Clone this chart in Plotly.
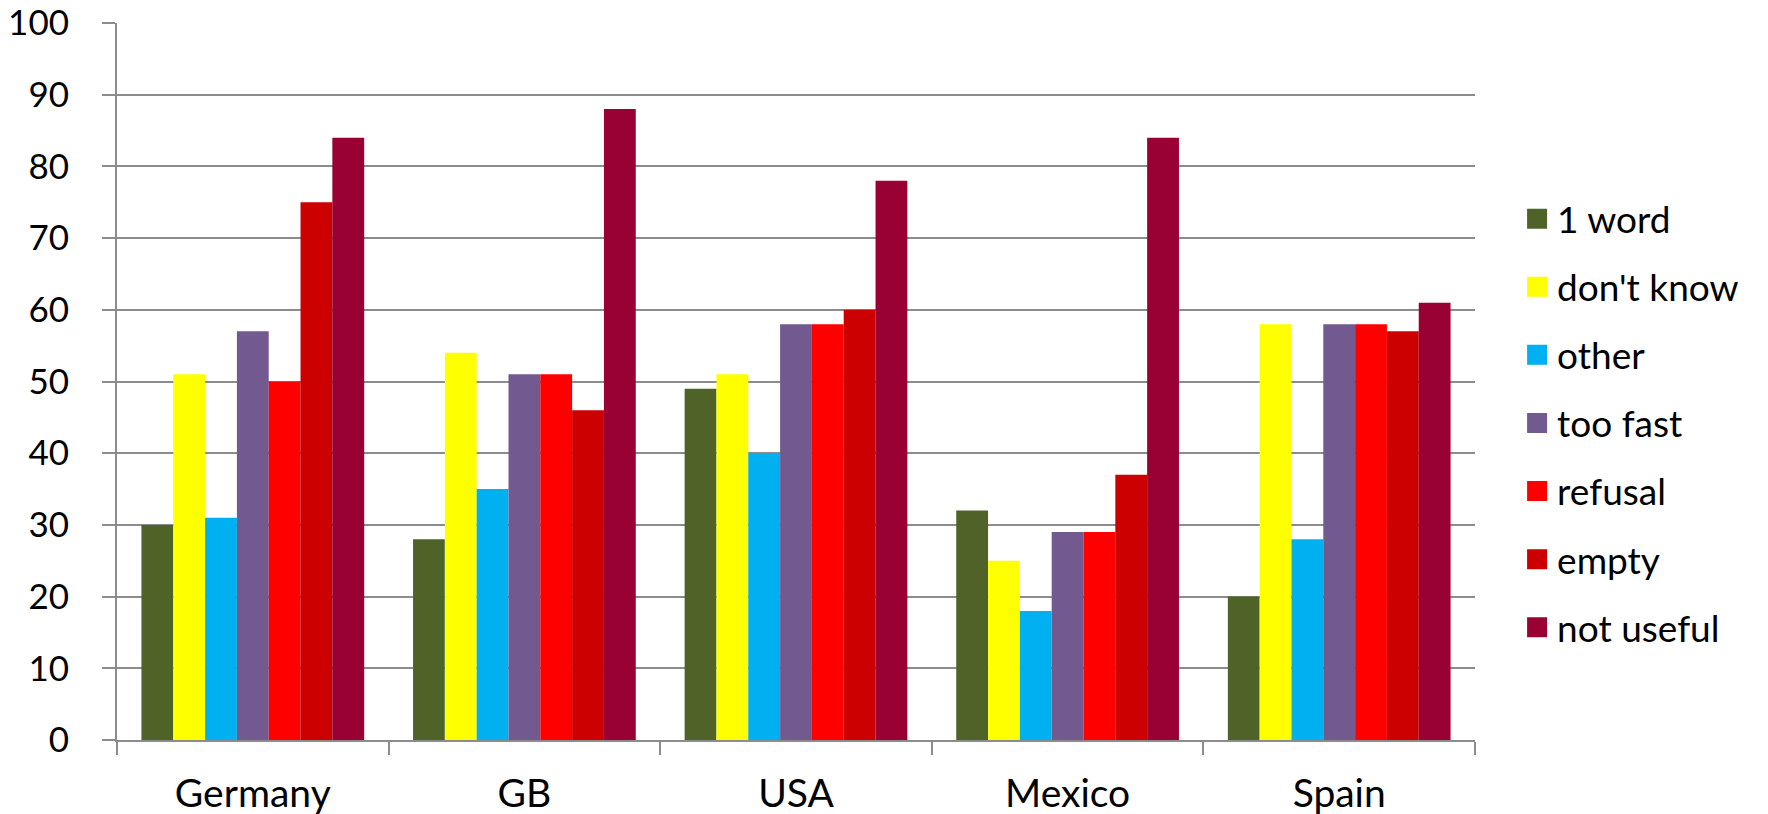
import plotly.graph_objects as go

countries = ["Germany", "GB", "USA", "Mexico", "Spain"]
series_names = ["1 word", "don't know", "other", "too fast", "refusal", "empty", "not useful"]
one_word = [30, 28, 49, 32, 20]
dont_know = [51, 54, 51, 25, 58]
other = [31, 35, 40, 18, 28]
too_fast = [57, 51, 58, 29, 58]
refusal = [50, 51, 58, 29, 58]
empty = [75, 46, 60, 37, 57]
not_useful = [84, 88, 78, 84, 61]
colors = ["#4F6228", "#FFFF00", "#00B0F0", "#725A90", "#FF0000", "#CC0000", "#990033"]
y_ticks = [0, 10, 20, 30, 40, 50, 60, 70, 80, 90, 100]

series_values = [one_word, dont_know, other, too_fast, refusal, empty, not_useful]

FONT = "Lato, Carlito, Calibri, sans-serif"
GRID = "#8C8C8C"

fig = go.Figure()
for name, vals, col in zip(series_names, series_values, colors):
    fig.add_trace(go.Bar(x=countries, y=vals, name=name, marker=dict(color=col, line=dict(width=0)),
                         showlegend=False, legendgroup=name))
for name, col in zip(series_names, colors):
    fig.add_trace(go.Scatter(x=[None], y=[None], mode="markers", name=name, legendgroup=name,
                             marker=dict(symbol="square", size=16, color=col, line=dict(width=4, color=col))))

fig.update_layout(
    width=1768, height=814,
    margin=dict(l=117, r=293, t=23, b=74, autoexpand=False),
    plot_bgcolor="white", paper_bgcolor="white",
    barmode="group", bargap=0.18, bargroupgap=0,
    font=dict(family=FONT, size=35, color="black"),
    legend=dict(x=1.031, xanchor="left", y=0.442, yanchor="middle",
                font=dict(family=FONT, size=37, color="black"),
                tracegroupgap=17, traceorder="grouped", bgcolor="rgba(0,0,0,0)"),
    showlegend=True,
)
fig.update_xaxes(type="category", tickson="boundaries", ticks="outside", ticklen=13,
                 tickwidth=2, tickcolor=GRID, showline=True, linecolor=GRID, linewidth=2,
                 showgrid=False, ticklabelstandoff=18, tickfont=dict(size=39), automargin=False)
fig.update_yaxes(range=[0, 100], tickvals=y_ticks, ticks="outside", ticklen=13, tickwidth=2,
                 tickcolor=GRID, showline=True, linecolor=GRID, linewidth=2,
                 showgrid=True, gridcolor=GRID, gridwidth=2, zeroline=False,
                 ticklabelstandoff=26, tickfont=dict(size=35), automargin=False)

fig.write_html("out.html")
